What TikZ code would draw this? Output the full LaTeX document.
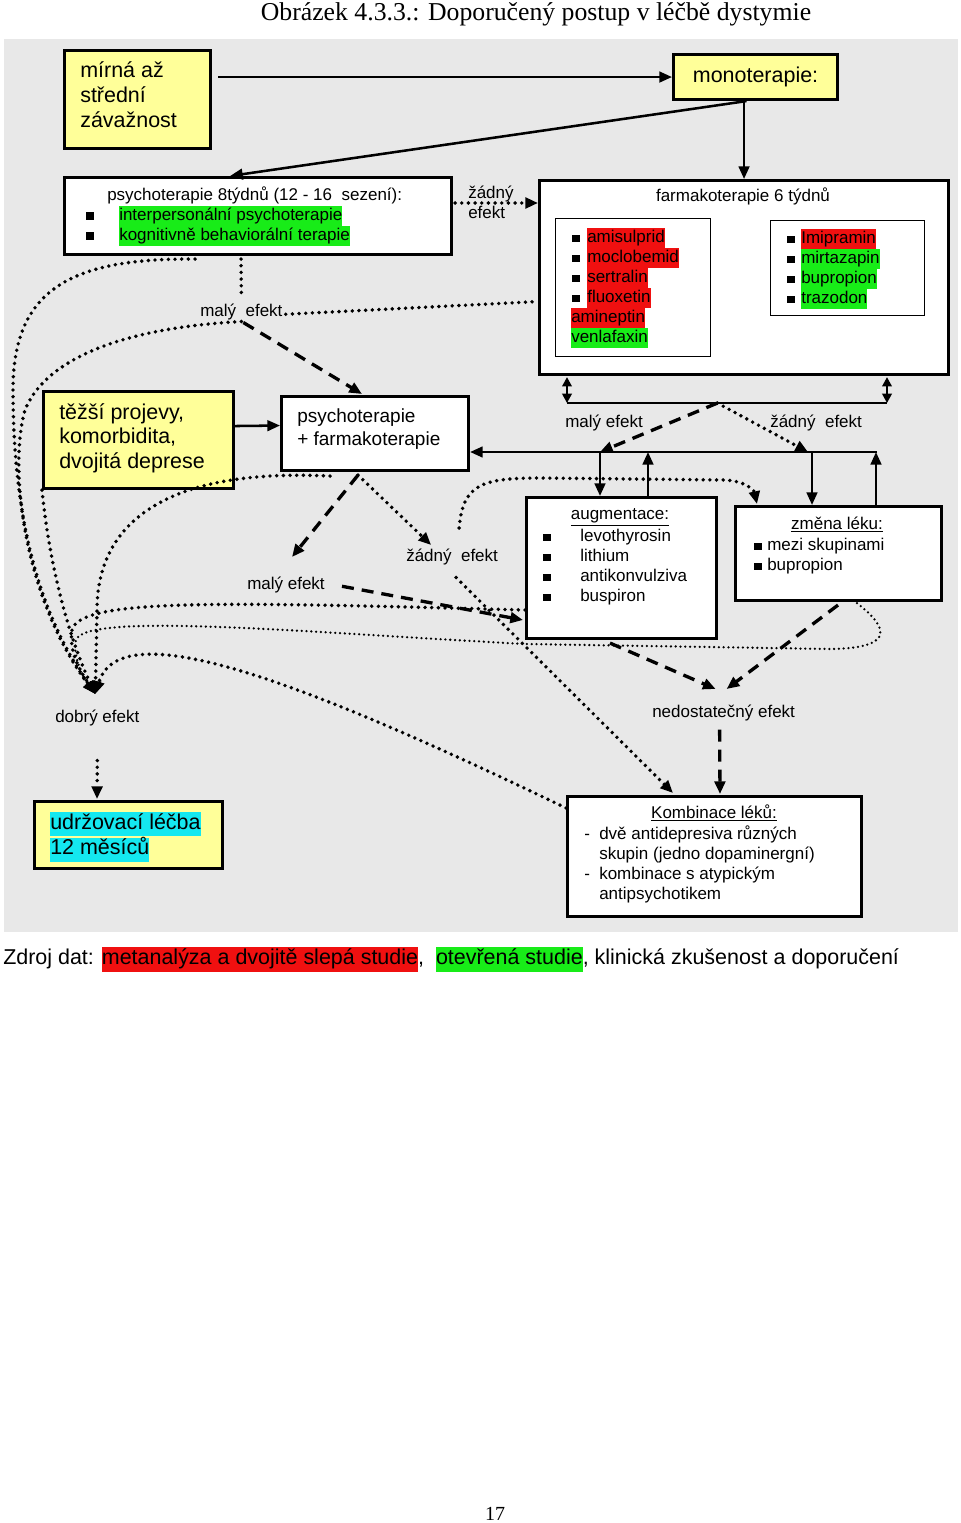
\documentclass[tikz,border=0pt]{standalone}
\usepackage{fontspec}
\setmainfont{Liberation Sans}
\newfontfamily\serifT{Liberation Serif}
\usetikzlibrary{arrows.meta,calc}
\definecolor{bgray}{RGB}{232,232,232}
\definecolor{pyel}{RGB}{255,255,153}
\definecolor{hred}{RGB}{240,16,16}
\definecolor{hgrn}{RGB}{24,236,24}
\definecolor{hcyn}{RGB}{20,232,240}
\newcommand\sm{\fontsize{12.75pt}{15pt}\selectfont}
\newcommand\lgf{\fontsize{16.1pt}{18.75pt}\selectfont}
\newcommand\hl[2]{{\setlength{\fboxsep}{0pt}\colorbox{#1}{\strut #2}}}
\newcommand\bsq[1][5.5pt]{\rule{#1}{#1}}
\begin{document}
\begin{tikzpicture}[x=0.75pt,y=-0.75pt,
  box/.style={draw,line width=2.3pt,inner sep=0pt,anchor=north west},
  thinbox/.style={draw,line width=1.1pt,inner sep=0pt,anchor=north west,fill=white},
  txt/.style={inner sep=0pt,anchor=north west,align=left,font=\sm},
  ctxt/.style={inner sep=0pt,font=\sm},
  ahead/.style={-{Triangle[length=9.5pt,width=8pt]}},
  dtip/.style={{Triangle[length=7pt,width=7pt]}-{Triangle[length=7pt,width=7pt]}},
  arr/.style={line width=1.9pt,ahead},
  dotl/.style={line width=2.9pt,line cap=round,dash pattern=on 0pt off 5pt},
  fdotl/.style={line width=1.9pt,line cap=round,dash pattern=on 0pt off 3.6pt},
  dashl/.style={line width=2.5pt,dash pattern=on 9pt off 6pt},
]
\useasboundingbox (0,0) rectangle (960,1523);
\fill[bgray] (4,39) rectangle (958,932);

% boxes
\node[box,fill=pyel,minimum width=109.5pt,minimum height=73.5pt] (mild) at (63,49) {};
\node[box,fill=pyel,minimum width=123pt,minimum height=33.75pt,font=\lgf] (mono) at (672,53) {monoterapie:};
\node[box,fill=white,minimum width=290.25pt,minimum height=57.75pt] (psy8) at (63,176) {};
\node[box,fill=white,minimum width=306.75pt,minimum height=145.5pt] (farm) at (538,179) {};
\node[thinbox,minimum width=116.25pt,minimum height=103.5pt] (in1) at (555,218) {};
\node[thinbox,minimum width=115.5pt,minimum height=71.25pt] (in2) at (770,220) {};
\node[box,fill=pyel,minimum width=142.5pt,minimum height=72.75pt] (tezsi) at (42,390) {};
\node[box,fill=white,minimum width=140.25pt,minimum height=55.5pt] (psfa) at (280,395) {};
\node[box,fill=white,minimum width=142.5pt,minimum height=105.75pt] (aug) at (525,496) {};
\node[box,fill=white,minimum width=154.5pt,minimum height=70.5pt] (zmena) at (734,505) {};
\node[box,fill=pyel,minimum width=141pt,minimum height=50.25pt] (udrz) at (33,800) {};
\node[box,fill=white,minimum width=220.5pt,minimum height=90pt] (komb) at (566,795) {};

% texts
\node[inner sep=0pt,font=\serifT\fontsize{19.3pt}{22pt}\selectfont] (title) at (536,14) {Obrázek 4.3.3.: Doporučený postup v léčbě dystymie};
\node[txt,font=\lgf] (mildt) at (80,60) {\strut mírná až\\střední\\závažnost};
\node[txt] (psy8t) at (86,186) {\hspace*{15.75pt}\strut psychoterapie 8týdnů (12 - 16\ \ sezení):\\\makebox[24.75pt][l]{\bsq[6pt]}\hl{hgrn}{interpersonální psychoterapie}\\\makebox[24.75pt][l]{\bsq[6pt]}\hl{hgrn}{kognitivně behaviorální terapie}};
\node[txt] (zadny1) at (468,184) {\strut žádný\\efekt};
\node[ctxt] (farmt) at (743,198) {\strut farmakoterapie 6 týdnů};
\node[txt] (in1t) at (571,228) {\makebox[12pt][l]{\hspace{0.75pt}\bsq}\hl{hred}{amisulprid}\\\makebox[12pt][l]{\hspace{0.75pt}\bsq}\hl{hred}{moclobemid}\\\makebox[12pt][l]{\hspace{0.75pt}\bsq}\hl{hred}{sertralin}\\\makebox[12pt][l]{\hspace{0.75pt}\bsq}\hl{hred}{fluoxetin}\\\hl{hred}{amineptin}\\\hl{hgrn}{venlafaxin}};
\node[txt] (in2t) at (787,229) {\makebox[10.5pt][l]{\bsq}\hl{hred}{Imipramin}\\\makebox[10.5pt][l]{\bsq}\hl{hgrn}{mirtazapin}\\\makebox[10.5pt][l]{\bsq}\hl{hgrn}{bupropion}\\\makebox[10.5pt][l]{\bsq}\hl{hgrn}{trazodon}};
\node[txt] (maly1) at (200,302) {\strut malý\ \ efekt};
\node[txt] (maly3) at (565,413) {\strut malý efekt};
\node[txt] (zadny3) at (770,413) {\strut žádný\ \ efekt};
\node[txt,font=\fontsize{16.1pt}{18.4pt}\selectfont] (tezsit) at (59,402) {\strut těžší projevy,\\komorbidita,\\dvojitá deprese};
\node[txt,font=\fontsize{14.25pt}{17.25pt}\selectfont] (psfat) at (297,406) {\strut psychoterapie\\+ farmakoterapie};
\node[txt] (maly2) at (247,575) {\strut malý efekt};
\node[txt] (zadny2) at (406,547) {\strut žádný\ \ efekt};
\node[ctxt] (augh) at (620,516) {\strut\underline{augmentace:}};
\node[txt] (augl) at (543,527) {\makebox[27.75pt][l]{\bsq}\strut levothyrosin\\\makebox[27.75pt][l]{\bsq}lithium\\\makebox[27.75pt][l]{\bsq}antikonvulziva\\\makebox[27.75pt][l]{\bsq}buspiron};
\node[ctxt] (zmenah) at (837,525) {\strut\underline{změna léku:}};
\node[txt] (zmenal) at (754,536) {\makebox[9.75pt][l]{\bsq}\strut mezi skupinami\\\makebox[9.75pt][l]{\bsq}bupropion};
\node[txt] (dobry) at (55,708) {\strut dobrý efekt};
\node[txt] (nedost) at (652,703) {\strut nedostatečný efekt};
\node[txt,font=\fontsize{16.1pt}{18pt}\selectfont] (udrzt) at (50,812) {\hl{hcyn}{udržovací léčba}\\\hl{hcyn}{12 měsíců}};
\node[ctxt] (kombh) at (714,814) {\strut\underline{Kombinace léků:}};
\node[txt] (kombl) at (584,825) {\makebox[11.25pt][l]{-}\strut dvě antidepresiva různých\\\hspace*{11.25pt}skupin (jedno dopaminergní)\\\makebox[11.25pt][l]{-}kombinace s atypickým\\\hspace*{11.25pt}antipsychotikem};
\node[txt,font=\lgf] (zdroj) at (3,947) {\strut Zdroj dat: \hl{hred}{metanalýza a dvojitě slepá studie},\ \ \hl{hgrn}{otevřená studie}, klinická zkušenost a doporučení};
\node[inner sep=0pt,font=\serifT\fontsize{15pt}{18pt}\selectfont] (pg) at (495,1514) {17};

\coordinate (dob) at ($(dobry.north)+(-2,-14)$);

% top connectors
\draw[arr] ($(mild.east |- mono.west)+(6,0)$) -- (mono.west);
\draw[arr] ($(mono.south)+(-9,0)$) -- ($(psy8.north)+(-28,0)$);
\draw[arr] (farm.north |- mono.south) -- (farm.north);
\draw[dotl,ahead] ($(psy8.north east)+(2,27)$) -- ($(farm.north west)+(0,24)$);
\draw[dotl] ($(psy8.south west)+(178,3)$) -- ($(maly1.north)+(0,-6)$);
\draw[dotl] ($(maly1.east)+(3,2)$) -- ($(farm.west)+(0,24)$);
\draw[dashl,ahead] ($(maly1.south)+(2,0)$) -- ($(psfa.north west)+(82,-1)$);
\draw[arr] ($(tezsi.east)+(0,-14)$) -- ($(psfa.west)+(0,-8)$);

% curves to dobry efekt
\draw[dotl,ahead] ($(psy8.south west)+(132,3)$) .. controls (70,258) and (13,290) .. (13,390) .. controls (13,520) and (40,615) .. (dob);
\draw[dotl,ahead] ($(maly1.south)+(0,-1)$) .. controls (120,328) and (45,360) .. (25,410) .. controls (8,470) and (25,600) .. (dob);
\draw[dotl,ahead] (tezsi.south west) .. controls (50,570) and (70,640) .. (dob);
\draw[dotl,ahead] ($(psfa.south west)+(50,4)$) .. controls (170,468) and (97,520) .. (97,610) -- (dob);
\draw[dotl,ahead] ($(aug.north west)+(0,114)$) .. controls (220,602) and (80,598) .. (72,630) .. controls (68,655) and (85,678) .. (dob);
\draw[fdotl,ahead] ($(zmena.south west)+(123,1)$) .. controls (885,625) and (900,648) .. (830,649) -- (525,644) .. controls (300,632) and (85,612) .. (76,640) .. controls (72,660) and (86,680) .. (dob);
\draw[dotl,ahead] ($(komb.north west)+(0,13)$) .. controls (300,680) and (120,612) .. (dob);

% middle connectors
\draw[dotl,ahead] ($(psfa.south)+(-17,3)$) -- ($(zadny2.north)+(-21,-2)$);
\draw[dashl,ahead] ($(psfa.south)+(-17,3)$) -- ($(maly2.north)+(6,-18)$);
\draw[dashl,ahead] ($(maly2.east)+(17,1)$) -- ($(aug.north west)+(-2,124)$);
\draw[dotl,ahead] ($(zadny2.south)+(4,10)$) -- ($(komb.north west)+(107,-2)$);
\draw[dotl,ahead] ($(zadny2.north)+(7,-19)$) .. controls (463,485) and (480,478) .. (540,478) -- (725,480) .. controls (745,481) and (754,490) .. ($(zmena.north west)+(23,-1)$);
\draw[dashl,ahead] ($(aug.south west)+(85,3)$) -- ($(nedost.north)+(-8,-14)$);
\draw[dashl,ahead] ($(zmena.south west)+(104,3)$) -- ($(nedost.north)+(3,-14)$);
\draw[dashl,ahead] ($(nedost.south)+(-4,6)$) -- ($(komb.north west)+(154,-1)$);
\draw[dotl,ahead] ($(dobry.south)+(0,32)$) -- ($(udrz.north west)+(64,-1)$);

% farmakoterapie outputs
\coordinate (hl) at ($(farm.south west)+(29,27)$);
\coordinate (hr) at ($(farm.south west)+(349,27)$);
\draw[line width=1.9pt,dtip] ($(farm.south west)+(29,1)$) -- (hl);
\draw[line width=1.9pt,dtip] ($(farm.south west)+(349,1)$) -- (hr);
\draw[line width=1.9pt] (hl) -- (hr);
\coordinate (hm) at ($(hl)!0.47!(hr)$);
\draw[dashl,ahead] (hm) -- ($(aug.north west)+(75,-44)$);
\draw[dotl,ahead] (hm) -- ($(zmena.north west)+(74,-53)$);

% bus line
\coordinate (busR) at ($(zmena.north west)+(143,-53)$);
\draw[arr] (busR) -- (psfa.east |- busR);
\draw[arr] ($(aug.north west)+(75,-44)$) -- ($(aug.north west)+(75,0)$);
\draw[arr] ($(aug.north west)+(123,0)$) -- ($(aug.north west)+(123,-44)$);
\draw[arr] ($(zmena.north west)+(78,-53)$) -- ($(zmena.north west)+(78,0)$);
\draw[arr] ($(zmena.north west)+(142,0)$) -- ($(zmena.north west)+(142,-53)$);
\end{tikzpicture}
\end{document}
